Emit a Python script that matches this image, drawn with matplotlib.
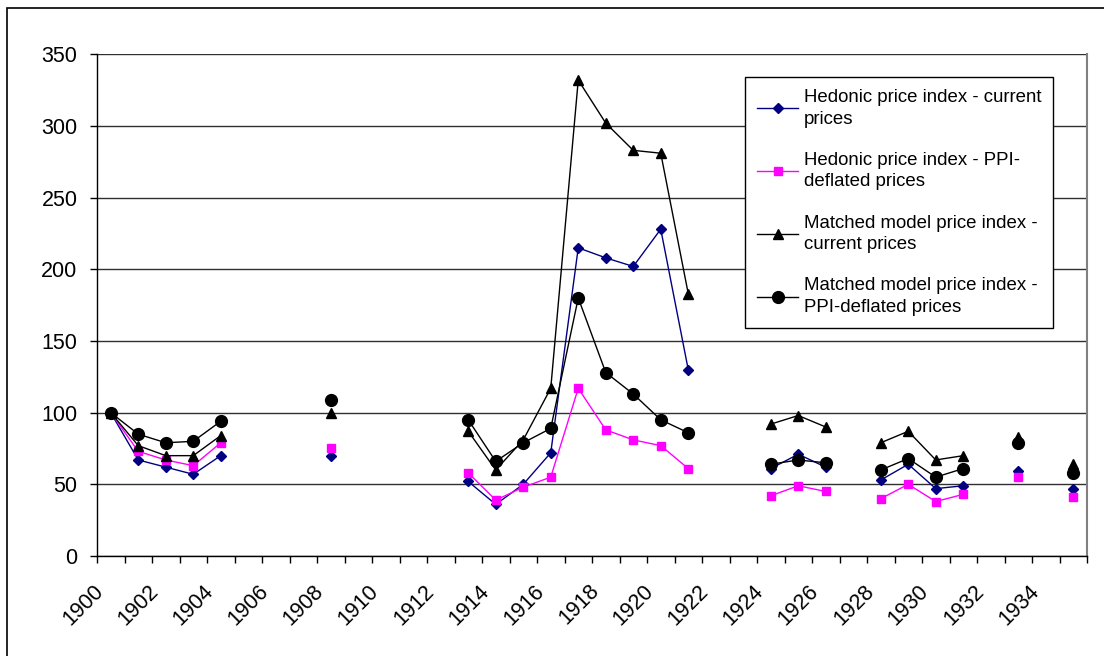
import matplotlib
matplotlib.use('Agg')
import matplotlib.pyplot as plt
import matplotlib.patches as patches
from matplotlib.transforms import ScaledTranslation
import numpy as np

nan = np.nan

years = list(range(1900, 1936))

hedonic_current = [100, 67, 62, 57, 70, nan, nan, nan, 70, nan, nan, nan, nan,
                   52, 36, 50, 72, 215, 208, 202, 228, 130, nan, nan,
                   61, 71, 62, nan, 53, 64, 47, 49, nan, 59, nan, 47]
hedonic_ppi = [100, 73, 67, 63, 79, nan, nan, nan, 75, nan, nan, nan, nan,
               58, 39, 48, 55, 117, 88, 81, 77, 61, nan, nan,
               42, 49, 45, nan, 40, 50, 38, 43, nan, 55, nan, 41]
matched_current = [100, 77, 70, 70, 84, nan, nan, nan, 100, nan, nan, nan, nan,
                   87, 60, 81, 117, 332, 302, 283, 281, 183, nan, nan,
                   92, 98, 90, nan, 79, 87, 67, 70, nan, 83, nan, 64]
matched_ppi = [100, 85, 79, 80, 94, nan, nan, nan, 109, nan, nan, nan, nan,
               95, 66, 79, 89, 180, 128, 113, 95, 86, nan, nan,
               64, 67, 65, nan, 60, 68, 55, 61, nan, 79, nan, 58]

labels = ['Hedonic price index - current\nprices',
          'Hedonic price index - PPI-\ndeflated prices',
          'Matched model price index -\ncurrent prices',
          'Matched model price index -\nPPI-deflated prices']

plt.rcParams['font.family'] = ['Liberation Sans', 'DejaVu Sans']

fig = plt.figure(figsize=(11.04, 6.56), dpi=100)
ax = fig.add_axes([97 / 1104, 1 - 556 / 656, (1087 - 97) / 1104, (556 - 54.3) / 656])

x = np.arange(len(years))
ax.plot(x, hedonic_current, color='#000080', lw=1, marker='D', ms=5.5, label=labels[0], zorder=3)
ax.plot(x, hedonic_ppi, color='#FF00FF', lw=1, marker='s', ms=6, label=labels[1], zorder=4)
ax.plot(x, matched_current, color='black', lw=1, marker='^', ms=7.5, label=labels[2], zorder=5)
ax.plot(x, matched_ppi, color='black', lw=1, marker='o', ms=8.5, label=labels[3], zorder=6)

ax.set_xlim(-0.5, len(years) - 0.5)
ax.set_ylim(0, 350)
ax.set_yticks(range(0, 351, 50))
ax.grid(axis='y', color='#303030', lw=1)
ax.set_axisbelow(True)

# category boundaries as tick marks, labels every other year
ax.set_xticks(np.arange(-0.5, len(years), 1), minor=True)
ax.set_xticks(x[::2])
ax.set_xticklabels([str(y) for y in years[::2]], rotation=45, ha='right', va='center',
                   rotation_mode='anchor', fontsize=15.5)
ax.tick_params(axis='x', which='major', length=0, pad=23)
ax.tick_params(axis='x', which='minor', length=5, width=1, direction='out', color='black')
ax.tick_params(axis='y', length=5, width=1, direction='out', pad=9, labelsize=15.5)
for lab in ax.get_xticklabels():
    lab.set_transform(lab.get_transform() + ScaledTranslation(-0.1, 0, fig.dpi_scale_trans))

ax.spines['top'].set_visible(False)
ax.spines['right'].set_color('#808080')
ax.spines['right'].set_linewidth(1.5)
ax.spines['left'].set_linewidth(1)
ax.spines['bottom'].set_linewidth(1)

leg = ax.legend(loc='upper left', bbox_to_anchor=(745 / 1104, 1 - 77 / 656),
                bbox_transform=fig.transFigure, fontsize=13.4, frameon=True, fancybox=False,
                edgecolor='black', framealpha=1, handlelength=2.2, handletextpad=0.3,
                labelspacing=1.3, borderpad=0.65, borderaxespad=0)
leg.get_frame().set_linewidth(1)
for t in leg.get_texts():
    t.set_linespacing(1.35)

# chart area border
fig.patches.append(patches.Rectangle((7 / 1104, -0.2), 1.5, 1.2 - 8 / 656, transform=fig.transFigure,
                                     fill=False, edgecolor='black', lw=1.2, clip_on=False))

plt.savefig('out.png', dpi=100)
